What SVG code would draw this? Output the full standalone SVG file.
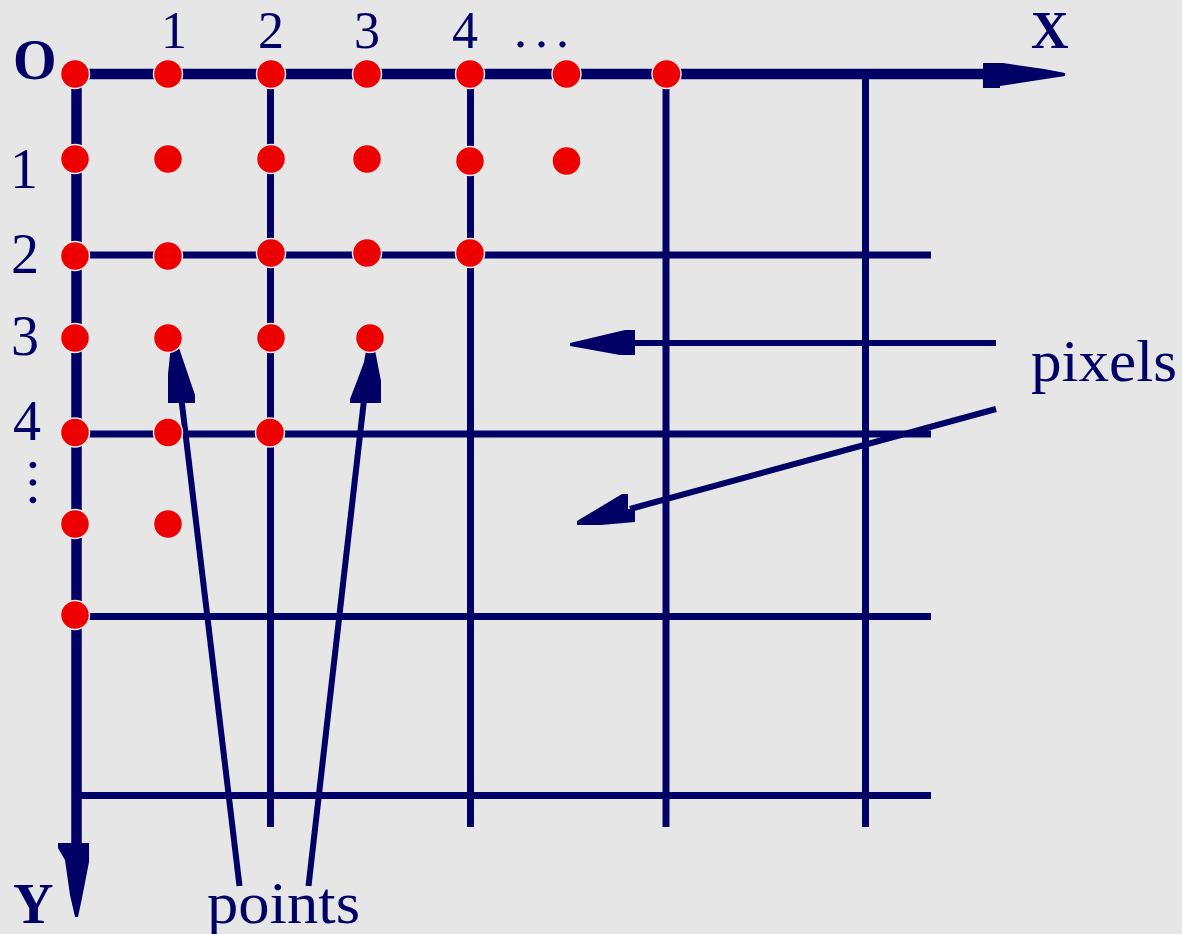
<svg xmlns="http://www.w3.org/2000/svg" width="1182" height="934" viewBox="0 0 1182 934">
<style>
.ln{stroke:#000066;fill:none}
.ax{stroke-width:10.5}
.gd{stroke-width:7}
.ar{stroke-width:6}
.hd{fill:#000066}
.pt{fill:#ee0000;stroke:#e6e6e6;stroke-width:1.5}
.t{font-family:"Liberation Serif","Times New Roman",serif;fill:#000066;font-size:56px}
.tp{font-size:52px}
.b{font-weight:bold}
.w{font-size:60px}
</style>
<rect width="1182" height="934" fill="#e6e6e6"/>
<g id="grid">
<line class="ln gd" x1="270.5" y1="74" x2="270.5" y2="827"/>
<line class="ln gd" x1="470.5" y1="74" x2="470.5" y2="827"/>
<line class="ln gd" x1="666" y1="74" x2="666" y2="827"/>
<line class="ln gd" x1="865.5" y1="74" x2="865.5" y2="827"/>
<line class="ln gd" x1="76" y1="255" x2="931" y2="255"/>
<line class="ln gd" x1="76" y1="434" x2="931" y2="434"/>
<line class="ln gd" x1="76" y1="616.5" x2="931" y2="616.5"/>
<line class="ln gd" x1="76" y1="795.5" x2="931" y2="795.5"/>
</g>
<g id="axes">
<line class="ln ax" x1="70" y1="74" x2="990" y2="74"/>
<polygon class="hd" points="983,63 1003,63 1044,69 1065,73 1065,76 1000,86 1000,88 983,88"/>
<line class="ln ax" x1="76.5" y1="69" x2="76.5" y2="850"/>
<polygon class="hd" points="58,843 89,843 89,862 82,898 78,917 75,917 70,895 65,860 58,848"/>
</g>
<g id="connectors">
<line class="ln ar" x1="996" y1="343" x2="630" y2="343"/>
<polygon class="hd" points="635,330 625,330 570,343 570,346 620,355 635,355"/>
<line class="ln ar" x1="996" y1="409" x2="630" y2="509"/>
<polygon class="hd" points="577,521 622,494 628,494 628,509 635,510 635,522 601,525 577,525"/>
<line class="ln ar" x1="181.5" y1="400" x2="239.5" y2="886"/>
<polygon class="hd" points="171,345 178,345 195,395 195,403 168,403 168,374"/>
<line class="ln ar" x1="364" y1="400" x2="308.5" y2="886"/>
<polygon class="hd" points="367,345 374,345 381,381 381,403 350,403 350,399 357,381 364,362"/>
</g>
<g id="points">
<circle class="pt" cx="75" cy="74" r="14.5"/>
<circle class="pt" cx="168" cy="74" r="14.5"/>
<circle class="pt" cx="271" cy="74" r="14.5"/>
<circle class="pt" cx="367" cy="74" r="14.5"/>
<circle class="pt" cx="470" cy="74" r="14.5"/>
<circle class="pt" cx="566.5" cy="74" r="14.5"/>
<circle class="pt" cx="666.5" cy="74" r="14.5"/>
<circle class="pt" cx="75" cy="159" r="14.5"/>
<circle class="pt" cx="168" cy="159" r="14.5"/>
<circle class="pt" cx="271" cy="159" r="14.5"/>
<circle class="pt" cx="367" cy="159" r="14.5"/>
<circle class="pt" cx="470" cy="161" r="14.5"/>
<circle class="pt" cx="566.5" cy="161" r="14.5"/>
<circle class="pt" cx="75" cy="256" r="14.5"/>
<circle class="pt" cx="168" cy="256" r="14.5"/>
<circle class="pt" cx="271" cy="253" r="14.5"/>
<circle class="pt" cx="367" cy="253" r="14.5"/>
<circle class="pt" cx="470" cy="253" r="14.5"/>
<circle class="pt" cx="75" cy="338" r="14.5"/>
<circle class="pt" cx="168" cy="338" r="14.5"/>
<circle class="pt" cx="271" cy="338" r="14.5"/>
<circle class="pt" cx="370" cy="338" r="14.5"/>
<circle class="pt" cx="75" cy="432.5" r="14.5"/>
<circle class="pt" cx="168" cy="432.5" r="14.5"/>
<circle class="pt" cx="270" cy="432.5" r="14.5"/>
<circle class="pt" cx="75" cy="524" r="14.5"/>
<circle class="pt" cx="168" cy="524" r="14.5"/>
<circle class="pt" cx="75" cy="615" r="14.5"/>
</g>
<g id="labels">
<text class="t b" x="13" y="79">O</text>
<text class="t tp" x="174" y="48" text-anchor="middle">1</text>
<text class="t tp" x="271" y="48" text-anchor="middle">2</text>
<text class="t tp" x="367" y="48" text-anchor="middle">3</text>
<text class="t tp" x="465" y="48" text-anchor="middle">4</text>
<text class="t tp" x="514" y="47" letter-spacing="8">...</text>
<text class="t tp b" x="1031" y="48">X</text>
<text class="t" x="24" y="188" text-anchor="middle">1</text>
<text class="t" x="25" y="273" text-anchor="middle">2</text>
<text class="t" x="25" y="355" text-anchor="middle">3</text>
<text class="t" x="27" y="440" text-anchor="middle">4</text>
<text class="t" transform="translate(30,458) rotate(90)" letter-spacing="3.5">...</text>
<text class="t b" x="13" y="923">Y</text>
<text class="t w" x="207" y="923" textLength="153" lengthAdjust="spacingAndGlyphs">points</text>
<text class="t w" x="1031" y="381" textLength="146" lengthAdjust="spacingAndGlyphs">pixels</text>
</g>
</svg>
